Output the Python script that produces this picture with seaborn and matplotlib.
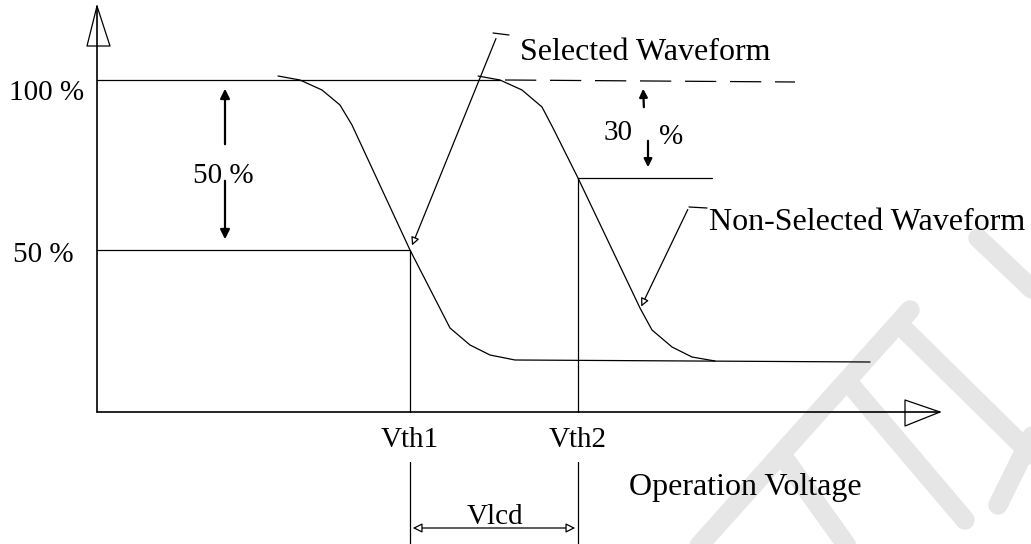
import matplotlib
matplotlib.use("Agg")
import matplotlib.pyplot as plt
import seaborn as sns
import pandas as pd
from matplotlib.patches import FancyArrowPatch

# --- data (diagram units, y grows downward) ---
sel_x = [278, 300, 322, 340, 352, 410, 450, 470, 490, 515, 870]
sel_y = [76, 80, 90, 105, 125, 250, 328, 345, 355, 360, 362]
non_x = [478, 500, 522, 542, 553, 578, 640, 652, 672, 692, 715]
non_y = [76, 80, 90, 107, 128, 178, 308, 330, 347, 357, 361]

level_labels = ["100 %", "50 %"]
level_y = [80, 250]
vth_labels = ["Vth1", "Vth2"]
vth_x = [410, 578]
ratio_labels = ["50 %", "30 %"]

sns.set_theme(style="white")
plt.rcParams['font.family'] = ['Liberation Serif', 'DejaVu Serif']
plt.rcParams['text.color'] = 'black'

fig = plt.figure(figsize=(10.31, 5.44), dpi=100)
ax = fig.add_axes([0, 0, 1, 1])

k = dict(color='black', lw=0.9)

# faint watermark strokes in the background
wm = dict(color='#e6e6e6', lw=14, solid_capstyle='round', zorder=0)
ax.plot([910, 695], [310, 550], **wm)
ax.plot([848, 965], [382, 520], **wm)
ax.plot([905, 1035], [330, 458], **wm)
ax.plot([1035, 998], [430, 505], **wm)
ax.plot([782, 850], [455, 550], **wm)
ax.plot([978, 1035], [238, 292], **wm)

# axes with open arrows
x0, xa = 97, 412
ax.plot([x0, x0], [xa, 8], color='black', lw=1.2)
ax.plot([x0, 87, 110, x0], [6, 46, 46, 6], color='black', lw=0.9)
ax.plot([x0, 938], [xa, xa], color='black', lw=1.2)
ax.plot([940, 905, 905, 940], [xa, 400, 426, xa], color='black', lw=0.9)

# reference levels
ax.plot([x0, 500], [level_y[0], level_y[0]], **k)
ax.plot([505, 795], [80, 82], color='black', lw=0.9, dashes=(25, 11))
ax.plot([x0, vth_x[0]], [level_y[1], level_y[1]], **k)
ax.plot([vth_x[1], 712], [178, 178], **k)
ax.plot([vth_x[0], vth_x[0]], [level_y[1], xa], **k)
ax.plot([vth_x[1], vth_x[1]], [178, xa], **k)

# waveforms
df = pd.concat([
    pd.DataFrame({'x': sel_x, 'y': sel_y, 'wave': 'Selected'}),
    pd.DataFrame({'x': non_x, 'y': non_y, 'wave': 'Non-Selected'}),
])
sns.lineplot(data=df, x='x', y='y', units='wave', estimator=None, sort=False,
             color='black', lw=0.9, ax=ax, legend=False)
ax.set_xlim(0, 1031)
ax.set_ylim(544, 0)
ax.axis('off')

# level labels
fs = 23
ax.text(9, 93, level_labels[0], fontsize=21, ha='left', va='center')
ax.text(13, 255, level_labels[1], fontsize=21, ha='left', va='center')

# 50 % span arrows
ax.annotate('', xy=(225, 86), xytext=(225, 147),
            arrowprops=dict(arrowstyle='-|>', color='black', lw=1.6, mutation_scale=14))
ax.annotate('', xy=(225, 242), xytext=(225, 178),
            arrowprops=dict(arrowstyle='-|>', color='black', lw=1.6, mutation_scale=14))
ax.text(193, 176, ratio_labels[0], fontsize=21, ha='left', va='center')

# 30 % arrows
num, pct = ratio_labels[1].split()
ax.annotate('', xy=(643, 86), xytext=(644, 110),
            arrowprops=dict(arrowstyle='-|>', color='black', lw=1.6, mutation_scale=12))
ax.annotate('', xy=(648, 170), xytext=(648, 138),
            arrowprops=dict(arrowstyle='-|>', color='black', lw=1.6, mutation_scale=12))
ax.text(604, 133, num, fontsize=21, ha='left', va='center')
ax.text(659, 137, pct, fontsize=21, ha='left', va='center')

# leaders
ax.plot([493, 509], [33, 35], **k)
ax.annotate('', xy=(411, 248), xytext=(497, 36),
            arrowprops=dict(arrowstyle='-|>', color='black', fc='white', lw=0.9, mutation_scale=12))
ax.text(520, 52, "Selected Waveform", fontsize=fs, ha='left', va='center')
ax.plot([689, 707], [207, 208], **k)
ax.annotate('', xy=(640, 309), xytext=(689, 207),
            arrowprops=dict(arrowstyle='-|>', color='black', fc='white', lw=0.9, mutation_scale=12))
ax.text(709, 222, "Non-Selected Waveform", fontsize=fs, ha='left', va='center')

# threshold labels
for lab, xv in zip(vth_labels, vth_x):
    ax.text(xv, 440, lab, fontsize=21, ha='center', va='center')
ax.text(745, 487, "Operation Voltage", fontsize=fs, ha='center', va='center')

# Vlcd span
for xv in vth_x:
    ax.plot([xv, xv], [462, 544], **k)
ax.add_patch(FancyArrowPatch((vth_x[0], 528), (vth_x[1], 528), arrowstyle='<|-|>',
                             color='black', fc='white', lw=0.9, mutation_scale=14))
ax.text(495, 517, "Vlcd", fontsize=21, ha='center', va='center')

fig.savefig("out.png", dpi=100)
